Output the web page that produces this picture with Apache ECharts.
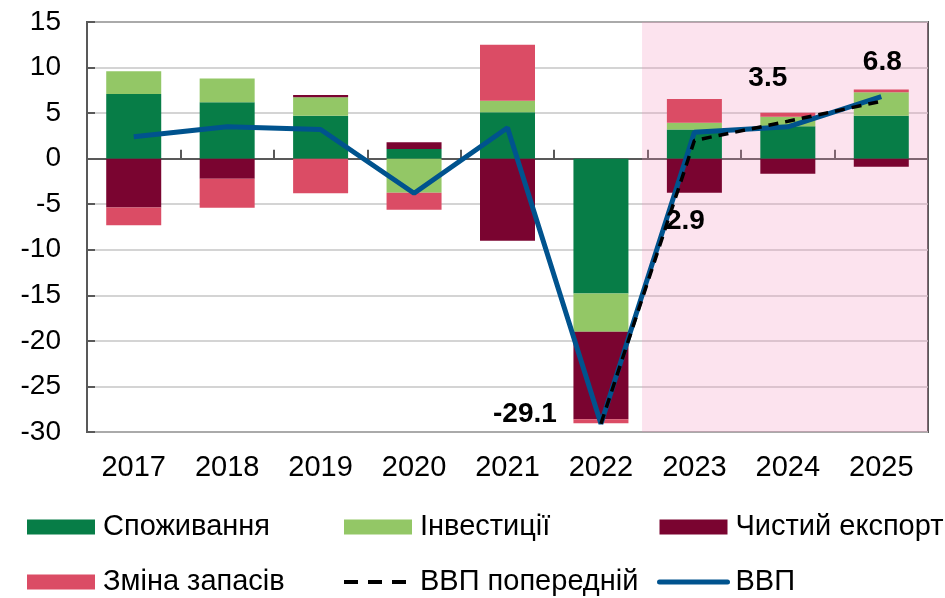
<!DOCTYPE html>
<html>
<head>
    <meta charset="UTF-8">
    <title>Внесок компонентів у ВВП</title>
    <script src="https://cdn.jsdelivr.net/npm/echarts@6/dist/echarts.min.js"></script>
    <style>
        html, body { margin: 0; padding: 0; background: #fff; }
        #chart { width: 945px; height: 598px; }
    </style>
</head>
<body>
    <div id="chart"></div>
    <script>
        const years = ['2017', '2018', '2019', '2020', '2021', '2022', '2023', '2024', '2025'];
        const consumption = [7.1, 6.2, 4.7, 1.05, 5.1, -14.8, 3.2, 3.55, 4.7];
        const investment = [2.5, 2.6, 2.05, -3.75, 1.25, -4.2, 0.75, 1.05, 2.6];
        const netExport = [-5.35, -2.2, 0.25, 0.75, -9.0, -9.6, -3.75, -1.65, -0.9];
        const stockChange = [-1.95, -3.2, -3.8, -1.85, 6.15, -0.45, 2.6, 0.45, 0.3];
        const gdpPrev = [null, null, null, null, null, -29.1, 2.0, 4.1, 6.3];
        const gdp = [2.4, 3.5, 3.2, -3.8, 3.4, -29.1, 2.9, 3.5, 6.8];
        // which GDP points carry a value label, and where the label sits
        const labelled = [5, 6, 7, 8];
        const labelOffsets = [[-76, -10], [-9, 89], [-20, -48], [1, -34]];
        const forecastFrom = 5.94; // start of the pink forecast band (in category units)

        const font = "'Liberation Sans', Arial, sans-serif";
        const frame = '#595959';
        const blue = '#00538e';

        const chart = echarts.init(document.getElementById('chart'));

        function barSeries(name, data, color) {
            return {
                name: name,
                type: 'bar',
                stack: 'total',
                data: data,
                barWidth: 55,
                itemStyle: { color: color },
                z: 2
            };
        }

        const marks = labelled.map(function (i, k) {
            return {
                coord: [years[i], gdp[i]],
                value: gdp[i].toFixed(1),
                label: { offset: labelOffsets[k] }
            };
        });

        const legendText = { fontFamily: font, fontSize: 29, color: '#000', lineHeight: 30, padding: [0, 0, 0, 3] };
        const noSymbol = { color: 'rgba(0,0,0,0)', borderWidth: 0, opacity: 0 };
        function legendCol(left, names) {
            return {
                orient: 'vertical',
                left: left,
                top: 512,
                height: 86,
                itemWidth: 68,
                itemHeight: 15,
                itemGap: 25,
                padding: 0,
                textStyle: legendText,
                data: names
            };
        }
        function barItem(name) {
            return { name: name, icon: 'rect' };
        }

        const option = {
            animation: false,
            grid: {
                left: 87, right: 17, top: 22, bottom: 166,
                show: true,
                borderColor: frame,
                borderWidth: 2
            },
            legend: [
                legendCol(27, [barItem('Споживання'), barItem('Зміна запасів')]),
                legendCol(342, [barItem('Інвестиції'), {
                    name: 'ВВП попередній',
                    itemStyle: noSymbol,
                    lineStyle: { color: '#000', width: 4, type: [14, 10] }
                }]),
                legendCol(657, [barItem('Чистий експорт'), {
                    name: 'ВВП',
                    itemStyle: noSymbol,
                    lineStyle: { color: blue, width: 5, cap: 'round' }
                }])
            ],
            xAxis: [
                {
                    type: 'category',
                    data: years,
                    position: 'bottom',
                    axisLine: { show: false, onZero: false },
                    axisTick: { show: false },
                    axisLabel: { fontFamily: font, fontSize: 29, color: '#000', margin: 21 }
                },
                {
                    type: 'category',
                    data: years,
                    position: 'bottom',
                    axisLine: { show: true, onZero: true, lineStyle: { color: frame, width: 2 } },
                    axisTick: { show: true, inside: true, length: 9, lineStyle: { color: frame, width: 2 } },
                    axisLabel: { show: false }
                },
                {
                    type: 'value',
                    min: 0,
                    max: 9,
                    show: false
                }
            ],
            yAxis: {
                type: 'value',
                min: -30,
                max: 15,
                interval: 5,
                axisLine: { show: true, lineStyle: { color: frame, width: 2 } },
                axisTick: { show: true, inside: true, length: 8, lineStyle: { color: frame, width: 2 } },
                axisLabel: { fontFamily: font, fontSize: 28, color: '#000', margin: 26 },
                splitLine: { lineStyle: { color: '#c6c6c6', width: 1.5 } }
            },
            series: [
                {
                    name: 'forecast',
                    type: 'line',
                    xAxisIndex: 2,
                    data: [],
                    silent: true,
                    z: -1,
                    markArea: {
                        silent: true,
                        itemStyle: { color: 'rgba(243,143,187,0.25)' },
                        data: [[{ xAxis: forecastFrom }, { xAxis: 9 }]]
                    }
                },
                barSeries('Споживання', consumption, '#077d47'),
                barSeries('Інвестиції', investment, '#93c766'),
                barSeries('Чистий експорт', netExport, '#7a0430'),
                barSeries('Зміна запасів', stockChange, '#db4c65'),
                {
                    name: 'ВВП',
                    type: 'line',
                    data: gdp,
                    symbol: 'none',
                    lineStyle: { color: blue, width: 5 },
                    itemStyle: { color: blue },
                    z: 4,
                    markPoint: {
                        symbol: 'rect',
                        symbolSize: 1,
                        itemStyle: { color: 'rgba(0,0,0,0)' },
                        label: {
                            show: true,
                            position: 'inside',
                            fontFamily: font,
                            fontSize: 28,
                            fontWeight: 'bold',
                            color: '#000',
                            formatter: '{c}'
                        },
                        data: marks
                    }
                },
                {
                    name: 'ВВП попередній',
                    type: 'line',
                    data: gdpPrev,
                    symbol: 'none',
                    lineStyle: { color: '#000', width: 3.5, type: [10, 7] },
                    itemStyle: { color: '#000' },
                    z: 5
                }
            ]
        };

        chart.setOption(option);
    </script>
</body>
</html>
